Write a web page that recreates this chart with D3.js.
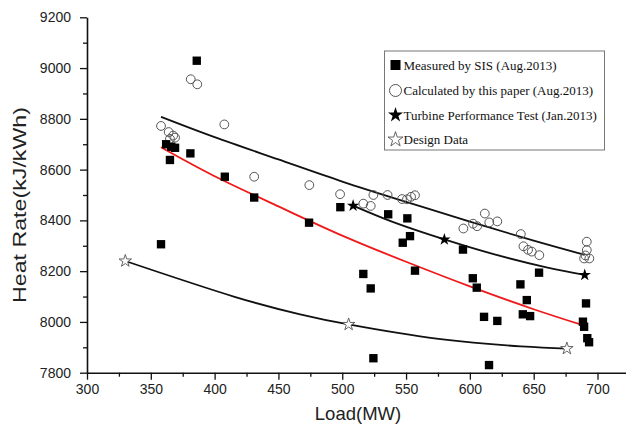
<!DOCTYPE html>
<html>
<head>
<meta charset="utf-8">
<script src="https://cdn.jsdelivr.net/npm/d3@7/dist/d3.min.js"></script>
<style>
  html, body { margin: 0; padding: 0; background: #fff; }
  svg { display: block; }
</style>
</head>
<body>
<div id="chart"></div>
<script>
// Heat rate vs load — scatter with fitted curves

// Measured by SIS (Aug.2013): [load MW, heat rate kJ/kWh]
const measured = [
  [358, 8306], [362, 8700], [366, 8690], [369, 8686], [365, 8638], [381, 8664],
  [386, 9029], [408, 8572], [431, 8490], [474, 8391], [498.5, 8452], [516.5, 8189],
  [522.3, 8132], [524.4, 7857], [536, 8424], [547.4, 8312], [551, 8408], [553.1, 8338],
  [557, 8202], [594.6, 8285], [602.3, 8172], [605.4, 8135], [611.1, 8020], [615, 7830],
  [621.5, 8004], [639.6, 8148], [641.5, 8030], [644.6, 8086], [647.2, 8023], [654.2, 8194],
  [691, 8073], [688.6, 8001], [689.5, 7981], [692, 7936], [693.4, 7920]
];

// Calculated by this paper (Aug.2013)
const calculated = [
  [358, 8772], [364, 8748], [367.5, 8734], [369, 8726], [365, 8721], [381.3, 8956],
  [386.4, 8936], [407.6, 8778], [431, 8572], [474.2, 8539], [498.3, 8503], [516.5, 8466],
  [522.3, 8457], [524.4, 8500], [535.5, 8500], [546.8, 8484], [550.7, 8483], [553.9, 8493],
  [557, 8499], [594.9, 8368], [602.5, 8387], [605.7, 8377], [611.7, 8427], [615.2, 8392],
  [621.5, 8396], [639.9, 8346], [642, 8298], [645.6, 8284], [648.5, 8277], [654.4, 8263],
  [691.6, 8316], [691.6, 8283], [690.5, 8262], [689.5, 8250], [693.6, 8250]
];

// Turbine Performance Test (Jan.2013)
const turbineTest = [[508.5, 8458], [580, 8325], [690, 8185]];

// Design Data
const designData = [[330, 8240], [505, 7990], [676, 7895]];

// Fitted curves
const fitCalculated = [
  [358, 8808], [400, 8728], [450, 8640], [500, 8553], [550, 8473], [600, 8395], [650, 8320], [690, 8264]
];
const fitMeasured = [
  [358, 8688], [400, 8574], [450, 8455], [500, 8340], [550, 8237], [600, 8140], [650, 8050], [688, 7988]
];
const fitTurbine = [[508.5, 8458], [540, 8393], [580, 8325], [620, 8265], [660, 8215], [690, 8185]];
const fitDesign = [
  [330, 8240], [415, 8100], [467, 8030], [505, 7990], [577, 7932], [640, 7904], [676, 7895]
];

// Axes
const xTicks = [300, 350, 400, 450, 500, 550, 600, 650, 700];
const xMinorTicks = [325, 375, 425, 475, 525, 575, 625, 675];
const yTicks = [7800, 8000, 8200, 8400, 8600, 8800, 9000, 9200];
const yMinorTicks = [7900, 8100, 8300, 8500, 8700, 8900, 9100];

const legendLabels = [
  'Measured by SIS (Aug.2013)',
  'Calculated by this paper (Aug.2013)',
  'Turbine Performance Test (Jan.2013)',
  'Design Data'
];

const CFG = {
  width: 626,
  height: 433,
  left: 87,
  right: 626,
  top: 17.3,
  bottom: 372.7,
  sans: '"Liberation Sans", Arial, Helvetica, sans-serif',
  serif: '"Liberation Serif", "Times New Roman", serif',
};

const svg = d3.select('#chart').append('svg')
  .attr('width', CFG.width)
  .attr('height', CFG.height)
  .attr('viewBox', `0 0 ${CFG.width} ${CFG.height}`);

svg.append('rect')
  .attr('width', CFG.width).attr('height', CFG.height)
  .attr('fill', '#fff');

// x: 300 -> 87px, 700 -> 597.5px
const pxPerMW = (597.5 - CFG.left) / 400;
const x = d3.scaleLinear()
  .domain([300, 300 + (CFG.right - CFG.left) / pxPerMW])
  .range([CFG.left, CFG.right]);
const y = d3.scaleLinear()
  .domain([7800, 9200])
  .range([CFG.bottom, CFG.top]);

const fmt = d3.format('d');

// Minor ticks first, then major ticks with labels
svg.append('g')
  .attr('transform', `translate(0,${CFG.bottom})`)
  .call(d3.axisBottom(x).tickValues(xMinorTicks).tickSize(4).tickFormat(''))
  .call(g => g.select('.domain').remove());
svg.append('g')
  .attr('transform', `translate(${CFG.left},0)`)
  .call(d3.axisLeft(y).tickValues(yMinorTicks).tickSize(4).tickFormat(''))
  .call(g => g.select('.domain').remove());

const xAxis = svg.append('g')
  .attr('transform', `translate(0,${CFG.bottom})`)
  .call(d3.axisBottom(x).tickValues(xTicks).tickFormat(fmt)
    .tickSize(7).tickSizeOuter(0).tickPadding(4));
const yAxis = svg.append('g')
  .attr('transform', `translate(${CFG.left},0)`)
  .call(d3.axisLeft(y).tickValues(yTicks).tickFormat(fmt)
    .tickSize(7).tickSizeOuter(0).tickPadding(9));

for (const ax of [xAxis, yAxis]) {
  ax.select('.domain').attr('stroke', '#111').attr('stroke-width', 1.6);
  ax.selectAll('text')
    .attr('font-family', CFG.sans)
    .attr('font-size', 14)
    .attr('fill', '#222');
}
svg.selectAll('.tick line').attr('stroke', '#111').attr('stroke-width', 1.3);

// Axis titles
svg.append('text')
  .attr('x', 358).attr('y', 420)
  .attr('text-anchor', 'middle')
  .attr('font-family', CFG.sans)
  .attr('font-size', 18.5)
  .attr('fill', '#222')
  .text('Load(MW)');

svg.append('text')
  .attr('transform', 'translate(26,205) rotate(-90)')
  .attr('text-anchor', 'middle')
  .attr('font-family', CFG.sans)
  .attr('font-size', 18.5)
  .attr('textLength', 196)
  .attr('lengthAdjust', 'spacingAndGlyphs')
  .attr('fill', '#222')
  .text('Heat Rate(kJ/kWh)');

// Fitted curves
const line = d3.line()
  .x(d => x(d[0]))
  .y(d => y(d[1]))
  .curve(d3.curveNatural);

const curves = [
  { data: fitCalculated, color: '#111' },
  { data: fitTurbine, color: '#111' },
  { data: fitDesign, color: '#111' },
  { data: fitMeasured, color: '#f01818' },
];
svg.selectAll('path.fit')
  .data(curves)
  .join('path')
  .attr('class', 'fit')
  .attr('d', d => line(d.data))
  .attr('fill', 'none')
  .attr('stroke', d => d.color)
  .attr('stroke-width', 1.8);

// Markers
const square = d3.symbol().type(d3.symbolSquare).size(70);
const star = d3.symbol().type(d3.symbolStar).size(48);

svg.selectAll('circle.calc')
  .data(calculated)
  .join('circle')
  .attr('class', 'calc')
  .attr('cx', d => x(d[0]))
  .attr('cy', d => y(d[1]))
  .attr('r', 4.4)
  .attr('fill', 'none')
  .attr('stroke', '#555')
  .attr('stroke-width', 1);

svg.selectAll('path.meas')
  .data(measured)
  .join('path')
  .attr('class', 'meas')
  .attr('transform', d => `translate(${x(d[0])},${y(d[1])})`)
  .attr('d', square)
  .attr('fill', '#000');

svg.selectAll('path.test')
  .data(turbineTest)
  .join('path')
  .attr('class', 'test')
  .attr('transform', d => `translate(${x(d[0])},${y(d[1])})`)
  .attr('d', star)
  .attr('fill', '#000');

svg.selectAll('path.design')
  .data(designData)
  .join('path')
  .attr('class', 'design')
  .attr('transform', d => `translate(${x(d[0])},${y(d[1])})`)
  .attr('d', star)
  .attr('fill', '#fff')
  .attr('stroke', '#555')
  .attr('stroke-width', 0.9);

// Legend
const legend = svg.append('g');
legend.append('rect')
  .attr('x', 384.5).attr('y', 51)
  .attr('width', 220).attr('height', 99)
  .attr('fill', '#fff')
  .attr('stroke', '#777')
  .attr('stroke-width', 1);

const rowY = [65, 90.5, 115, 139.5];
const legendSymbols = [
  g => g.append('rect').attr('x', -5).attr('y', -5).attr('width', 10).attr('height', 10).attr('fill', '#000'),
  g => g.append('circle').attr('r', 6).attr('fill', 'none').attr('stroke', '#555').attr('stroke-width', 1),
  g => g.append('path').attr('d', d3.symbol().type(d3.symbolStar).size(70)()).attr('fill', '#000'),
  g => g.append('path').attr('d', d3.symbol().type(d3.symbolStar).size(70)())
    .attr('fill', '#fff').attr('stroke', '#555').attr('stroke-width', 0.9),
];
legendLabels.forEach((label, i) => {
  const g = legend.append('g').attr('transform', `translate(395.5,${rowY[i]})`);
  legendSymbols[i](g);
  legend.append('text')
    .attr('x', 403.5).attr('y', rowY[i] + 4.5)
    .attr('font-family', CFG.serif)
    .attr('font-size', 13)
    .attr('fill', '#111')
    .text(label);
});
</script>
</body>
</html>
